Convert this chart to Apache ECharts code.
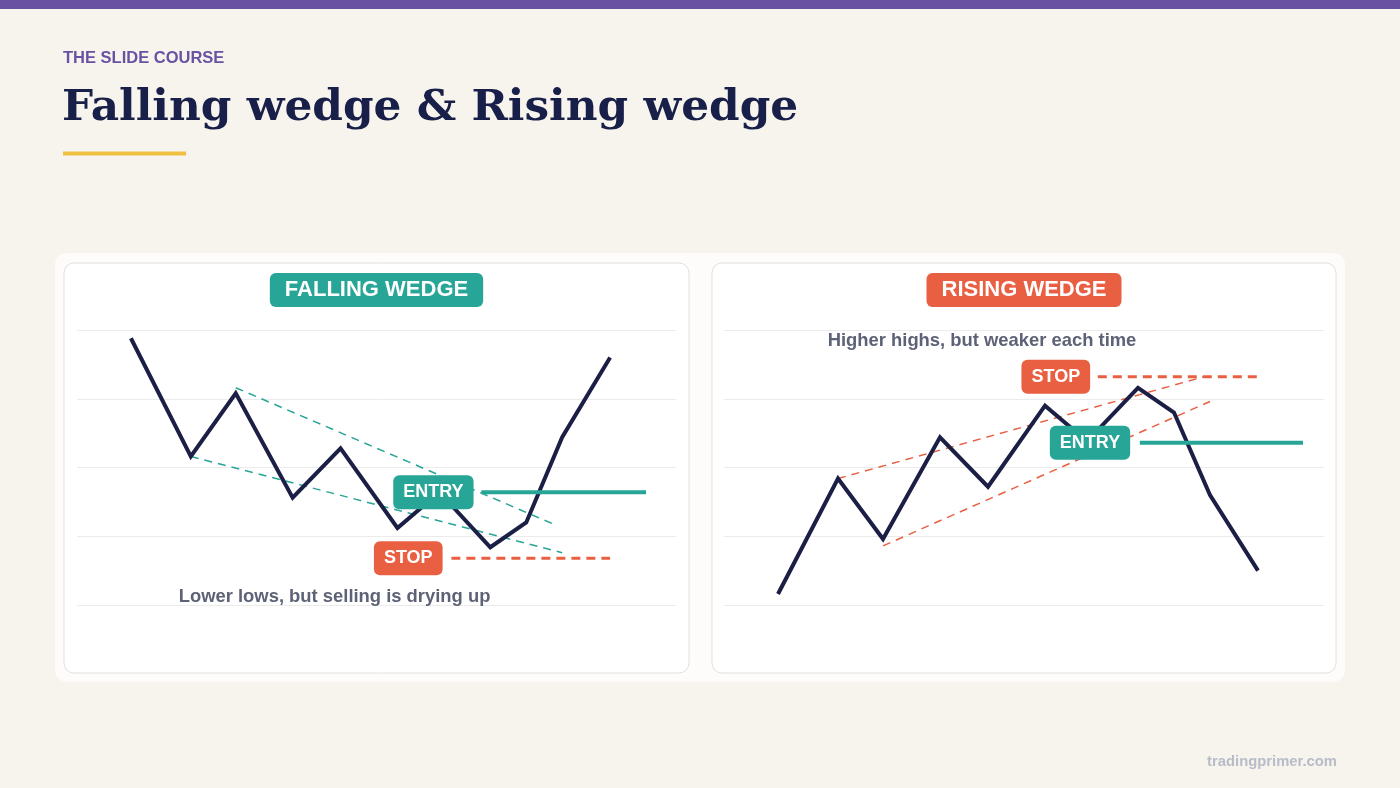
<!DOCTYPE html>
<html>
<head>
<meta charset="utf-8">
<title>Falling wedge & Rising wedge</title>
<script src="https://cdn.jsdelivr.net/npm/echarts@6/dist/echarts.min.js"></script>
<style>
  html, body { margin: 0; padding: 0; background: #f7f4ee; }
  #chart { width: 1400px; height: 788px; }
</style>
</head>
<body>
<div id="chart"></div>
<script>
// x positions of the swing points, shared by both panels
const steps = [9, 19, 26.5, 36, 44, 53.5, 60.5, 69, 75, 81, 89];
// price path of each pattern
const fallingPrice = [97, 54, 77, 39, 57, 28, 41, 21, 30, 61, 90];
const risingPrice = [4, 46, 24, 61, 43, 72.5, 59.5, 79, 70, 40, 12.5];

// wedge boundaries [x, y]
const fallingUpper = [[26.5, 79], [80, 29]];
const fallingLower = [[19, 54], [81, 19]];
const risingUpper = [[19, 46], [80, 83]];
const risingLower = [[26.5, 21.5], [81, 74]];

// trade levels: [level, badgeX, lineStart, lineEnd]
const fallingEntry = [41, 59.5, 67.5, 95];
const fallingStop = [17, 55.3, 62.5, 89];
const risingEntry = [59, 61, 69.3, 96.5];
const risingStop = [83, 55.3, 62.3, 89];

// captions [text, x, y]
const fallingNote = ['Lower lows, but selling is drying up', 43, 3];
const risingNote = ['Higher highs, but weaker each time', 43, 96];

const NAVY = '#1b1f45';
const TEAL = '#27a596';
const RED = '#e95f42';

const chart = echarts.init(document.getElementById('chart'));

function pair(xs, ys) {
  return xs.map((x, i) => [x, ys[i]]);
}

function badge(text, color, size, pad) {
  return {
    show: true,
    position: 'inside',
    formatter: text,
    color: '#fff',
    fontFamily: 'Liberation Sans, Arial, sans-serif',
    fontWeight: 'bold',
    fontSize: size,
    backgroundColor: color,
    borderRadius: 6,
    padding: pad
  };
}

// builds all series for one panel
function panelSeries(idx, price, upper, lower, wedgeColor, entry, stop, note) {
  const base = { xAxisIndex: idx, yAxisIndex: idx, silent: true, animation: false };
  return [
    Object.assign({}, base, {
      type: 'line', data: upper, symbol: 'none', z: 2,
      lineStyle: { color: wedgeColor, width: 1.5, type: [8, 6] }
    }),
    Object.assign({}, base, {
      type: 'line', data: lower, symbol: 'none', z: 2,
      lineStyle: { color: wedgeColor, width: 1.5, type: [8, 6] }
    }),
    Object.assign({}, base, {
      type: 'line', data: pair(steps, price), symbol: 'none', z: 3,
      lineStyle: { color: NAVY, width: 4, join: 'miter' }
    }),
    Object.assign({}, base, {
      type: 'line', data: [[entry[2], entry[0]], [entry[3], entry[0]]], symbol: 'none', z: 3,
      lineStyle: { color: TEAL, width: 4 }
    }),
    Object.assign({}, base, {
      type: 'line', data: [[stop[2], stop[0]], [stop[3], stop[0]]], symbol: 'none', z: 3,
      lineStyle: { color: RED, width: 3, type: [9, 6] }
    }),
    Object.assign({}, base, {
      type: 'scatter', symbolSize: 0, z: 10, itemStyle: { opacity: 1 },
      data: [{ value: [entry[1], entry[0]], label: badge('ENTRY', TEAL, 18, [8, 10, 8, 10]) },
             { value: [stop[1], stop[0]], label: badge('STOP', RED, 18, [8, 10, 8, 10]) }]
    }),
    Object.assign({}, base, {
      type: 'scatter', symbolSize: 0, z: 10, itemStyle: { opacity: 1 },
      data: [{ value: [note[1], note[2]] }],
      label: {
        show: true, position: 'inside', formatter: note[0],
        color: '#5d6276', fontFamily: 'Liberation Sans, Arial, sans-serif',
        fontWeight: 'bold', fontSize: 18.4
      }
    })
  ];
}

const axisX = idx => ({
  type: 'value', gridIndex: idx, min: 0, max: 100,
  axisLine: { show: false }, axisTick: { show: false },
  axisLabel: { show: false }, splitLine: { show: false }
});
const axisY = idx => ({
  type: 'value', gridIndex: idx, min: 0, max: 100, interval: 25,
  axisLine: { show: false }, axisTick: { show: false },
  axisLabel: { show: false },
  splitLine: { show: true, lineStyle: { color: '#ebebeb', width: 1 } }
});

const option = {
  backgroundColor: '#f7f4ee',
  animation: false,
  grid: [
    { left: 77, top: 330, width: 599, height: 275 },
    { left: 724, top: 330, width: 600, height: 275 }
  ],
  xAxis: [axisX(0), axisX(1)],
  yAxis: [axisY(0), axisY(1)],
  graphic: [
    { type: 'rect', z: -10, shape: { x: 0, y: 0, width: 1400, height: 9 }, style: { fill: '#6a52a3' } },
    { type: 'text', z: -10, style: { x: 63, y: 58.5, text: 'THE SLIDE COURSE', fill: '#6a52a3',
      font: 'bold 16.5px "Liberation Sans", Arial, sans-serif', verticalAlign: 'middle' } },
    { type: 'text', z: -10, style: { x: 62, y: 109, text: 'Falling wedge & Rising wedge', fill: '#18204a',
      font: 'bold 43.8px "DejaVu Serif", serif', verticalAlign: 'middle' } },
    { type: 'rect', z: -10, shape: { x: 63, y: 151.5, width: 123, height: 4 }, style: { fill: '#f0c044' } },
    { type: 'rect', z: -10, shape: { x: 55, y: 253, width: 1290, height: 429, r: 12 }, style: { fill: '#fdfcfa' } },
    { type: 'rect', z: -9, shape: { x: 64, y: 263, width: 625, height: 410, r: 10 },
      style: { fill: '#ffffff', stroke: '#e3e0da', lineWidth: 1 } },
    { type: 'rect', z: -9, shape: { x: 712, y: 263, width: 624, height: 410, r: 10 },
      style: { fill: '#ffffff', stroke: '#e3e0da', lineWidth: 1 } },
    { type: 'text', z: 20, style: { x: 376.5, y: 290, text: 'FALLING WEDGE', fill: '#fff',
      font: 'bold 22px "Liberation Sans", Arial, sans-serif', align: 'center', verticalAlign: 'middle',
      backgroundColor: TEAL, padding: [6, 15, 6, 15], borderRadius: 6 } },
    { type: 'text', z: 20, style: { x: 1024, y: 290, text: 'RISING WEDGE', fill: '#fff',
      font: 'bold 22px "Liberation Sans", Arial, sans-serif', align: 'center', verticalAlign: 'middle',
      backgroundColor: RED, padding: [6, 15, 6, 15], borderRadius: 6 } },
    { type: 'text', z: 20, style: { x: 1337, y: 762, text: 'tradingprimer.com', fill: '#b8bcc8',
      font: 'bold 14.8px "Liberation Sans", Arial, sans-serif', align: 'right', verticalAlign: 'middle' } }
  ],
  series: [].concat(
    panelSeries(0, fallingPrice, fallingUpper, fallingLower, TEAL, fallingEntry, fallingStop, fallingNote),
    panelSeries(1, risingPrice, risingUpper, risingLower, RED, risingEntry, risingStop, risingNote)
  )
};

chart.setOption(option);
</script>
</body>
</html>
